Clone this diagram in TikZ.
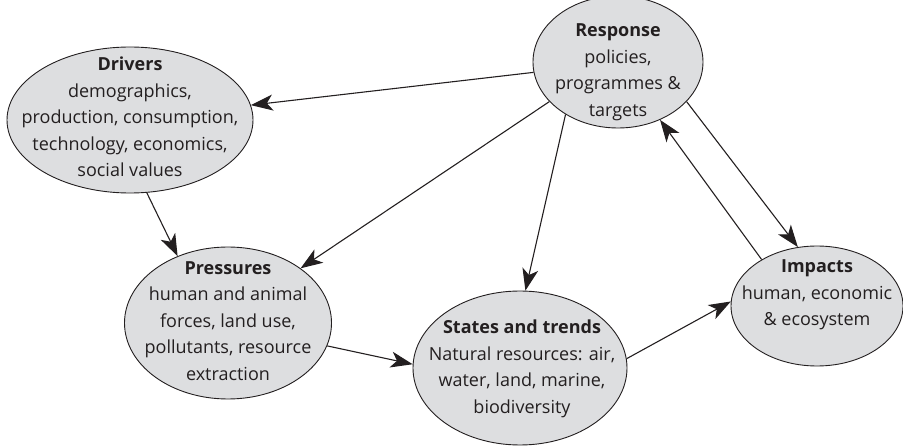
\documentclass[tikz,border=0pt]{standalone}
\usepackage{fontspec}
\setmainfont{Open Sans}
\usetikzlibrary{arrows.meta,shapes.geometric}
\definecolor{ellfill}{RGB}{221,222,224}
\definecolor{ink}{RGB}{35,31,32}
\begin{document}
\begin{tikzpicture}[x=1pt,y=-1pt,
  ell/.style={draw=ink, line width=0.9pt, fill=ellfill, ellipse, inner sep=0pt},
  txt/.style={align=center, text=ink, font=\fontsize{18}{26.5}\selectfont, inner sep=0pt},
  arr/.style={draw=ink, line width=1.1pt, -{Stealth[length=22pt,width=16pt,inset=6pt]}}]
\useasboundingbox (0,0) rectangle (903,446);
\node[ell, minimum width=246pt, minimum height=146pt] (D) at (130,120) {};
\node[ell, minimum width=170pt, minimum height=132pt] (R) at (618,62) {};
\node[ell, minimum width=207pt, minimum height=152pt] (P) at (228,323) {};
\node[ell, minimum width=214pt, minimum height=154pt] (S) at (520,368) {};
\node[ell, minimum width=172pt, minimum height=120pt] (I) at (817,306) {};
\node[txt] (Dt) at (130,117) {\textbf{Drivers}\\demographics,\\production, consumption,\\technology, economics,\\social values};
\node[txt] (Rt) at (618,72) {\textbf{Response}\\policies,\\programmes \&\\targets};
\node[txt] (Pt) at (228,321) {\textbf{Pressures}\\human and animal\\forces, land use,\\pollutants, resource\\extraction};
\node[txt] (St) at (522,369) {\textbf{States and trends}\\Natural resources: air,\\water, land, marine,\\biodiversity};
\node[txt] (It) at (817,295) {\textbf{Impacts}\\human, economic\\\& ecosystem};
\draw[arr] (R.187) -- (D.7);
\draw[arr] (R.210) -- (P.37);
\draw[arr] (R.225) -- (S.86);
\draw[arr] (R.330) -- (I.108);
\draw[arr] (I.140) -- (R.306);
\draw[arr] (D.283) -- (P.127);
\draw[arr] (P.347) -- (S.178);
\draw[arr] (S.5) -- (I.177);
\end{tikzpicture}
\end{document}
